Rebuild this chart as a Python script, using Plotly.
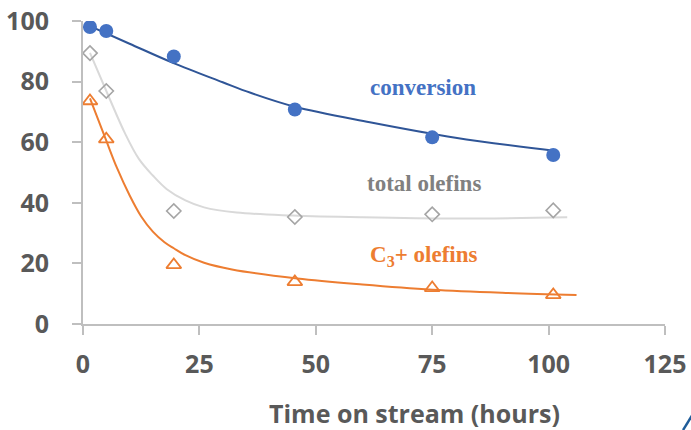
import plotly.graph_objects as go

# Measured values versus time on stream
hours = [1.5, 5, 19.5, 45.5, 75, 101]
conversion = [98.0, 96.7, 88.3, 70.8, 61.6, 55.8]
total_olefins = [89.4, 76.9, 37.3, 35.3, 36.2, 37.5]
c3_olefins = [73.6, 61.0, 19.5, 13.9, 11.9, 9.6]

# Trend-line knots (smoothed with a spline)
conv_fit_x = [1.5, 10, 19.3, 30, 36, 45.5, 61.6, 80, 102]
conv_fit_y = [98.3, 92.5, 86.2, 79.8, 76.3, 71.7, 66.6, 61.5, 57.0]
tot_fit_x = [1.5, 5.4, 9, 12, 15, 18, 22, 26, 33, 45, 60, 80, 104]
tot_fit_y = [89.5, 75.5, 63.0, 54.5, 49.0, 44.5, 40.8, 38.5, 36.8, 35.8, 35.2, 34.8, 35.2]
c3_fit_x = [1.5, 5, 7.3, 10, 12.5, 15, 17.5, 19.5, 22, 26, 32, 46, 60, 75, 90, 106]
c3_fit_y = [74.5, 60.5, 51.5, 42.5, 35.5, 30.5, 27.0, 25.0, 22.7, 20.2, 18.0, 15.0, 13.0, 11.3, 10.3, 9.6]

x_ticks = [0, 25, 50, 75, 100, 125]
y_ticks = [0, 20, 40, 60, 80, 100]

BLUE = "#4472C4"
DARK_BLUE = "#2F5597"
GRAY = "#A5A5A5"
LIGHT_GRAY = "#D9D9D9"
ORANGE = "#ED7D31"
TEXT = "#595959"
AXIS = "#BFBFBF"

fig = go.Figure()

for fx, fy, col in [(conv_fit_x, conv_fit_y, DARK_BLUE),
                    (tot_fit_x, tot_fit_y, LIGHT_GRAY),
                    (c3_fit_x, c3_fit_y, ORANGE)]:
    fig.add_trace(go.Scatter(x=fx, y=fy, mode="lines",
                             line=dict(color=col, width=2, shape="spline", smoothing=1.0),
                             hoverinfo="skip", showlegend=False))

fig.add_trace(go.Scatter(x=hours, y=conversion, mode="markers", name="conversion",
                         marker=dict(symbol="circle", size=14, color=BLUE)))
fig.add_trace(go.Scatter(x=hours, y=total_olefins, mode="markers", name="total olefins",
                         marker=dict(symbol="diamond-open", size=11, color=GRAY,
                                     line=dict(width=1.6, color=GRAY))))
fig.add_trace(go.Scatter(x=hours, y=c3_olefins, mode="markers", name="C3+ olefins",
                         marker=dict(symbol="triangle-up-open", size=13, color=ORANGE,
                                     line=dict(width=1.8, color=ORANGE))))

serif = "Liberation Serif"
fig.add_annotation(x=73, y=77.9, text="<b>conversion</b>", showarrow=False,
                   font=dict(family=serif, size=23, color=BLUE))
fig.add_annotation(x=73.2, y=46.5, text="<b>total olefins</b>", showarrow=False,
                   font=dict(family=serif, size=23, color="#808080"))
fig.add_annotation(x=73.2, y=22.3, text="<b>C<sub>3</sub>+ olefins</b>", showarrow=False,
                   font=dict(family=serif, size=23, color=ORANGE))

# x-axis title, set to the right of the plot centre
fig.add_annotation(xref="paper", yref="paper", x=0.569, y=-0.294,
                   xanchor="center", yanchor="middle", showarrow=False,
                   text="Time on stream (hours)",
                   font=dict(family="Open Sans", size=25, color=TEXT, weight="bold"))

# small stroke at the lower right corner
fig.add_shape(type="line", xref="paper", yref="paper",
              x0=1.031, y0=-0.35, x1=1.047, y1=-0.30,
              line=dict(color="#1F5C99", width=2.5))

tickfont = dict(family="Open Sans", size=25, color=TEXT, weight="bold")
fig.update_xaxes(range=[0, 125], tickvals=x_ticks, showgrid=False, zeroline=False,
                 showline=True, linecolor=AXIS, linewidth=2, automargin=False,
                 ticks="outside", ticklen=9, tickwidth=2, tickcolor=AXIS,
                 tickfont=tickfont, ticklabelstandoff=8)
fig.update_yaxes(range=[0, 100], tickvals=y_ticks, showgrid=False, zeroline=False,
                 showline=True, linecolor=AXIS, linewidth=2, automargin=False,
                 ticks="outside", ticklen=9, tickwidth=2, tickcolor=AXIS,
                 tickfont=tickfont, ticklabelstandoff=18)

fig.update_layout(width=691, height=430, margin=dict(l=83, r=26, t=21, b=106),
                  plot_bgcolor="white", paper_bgcolor="white", showlegend=False)

fig.write_html("out.html")
